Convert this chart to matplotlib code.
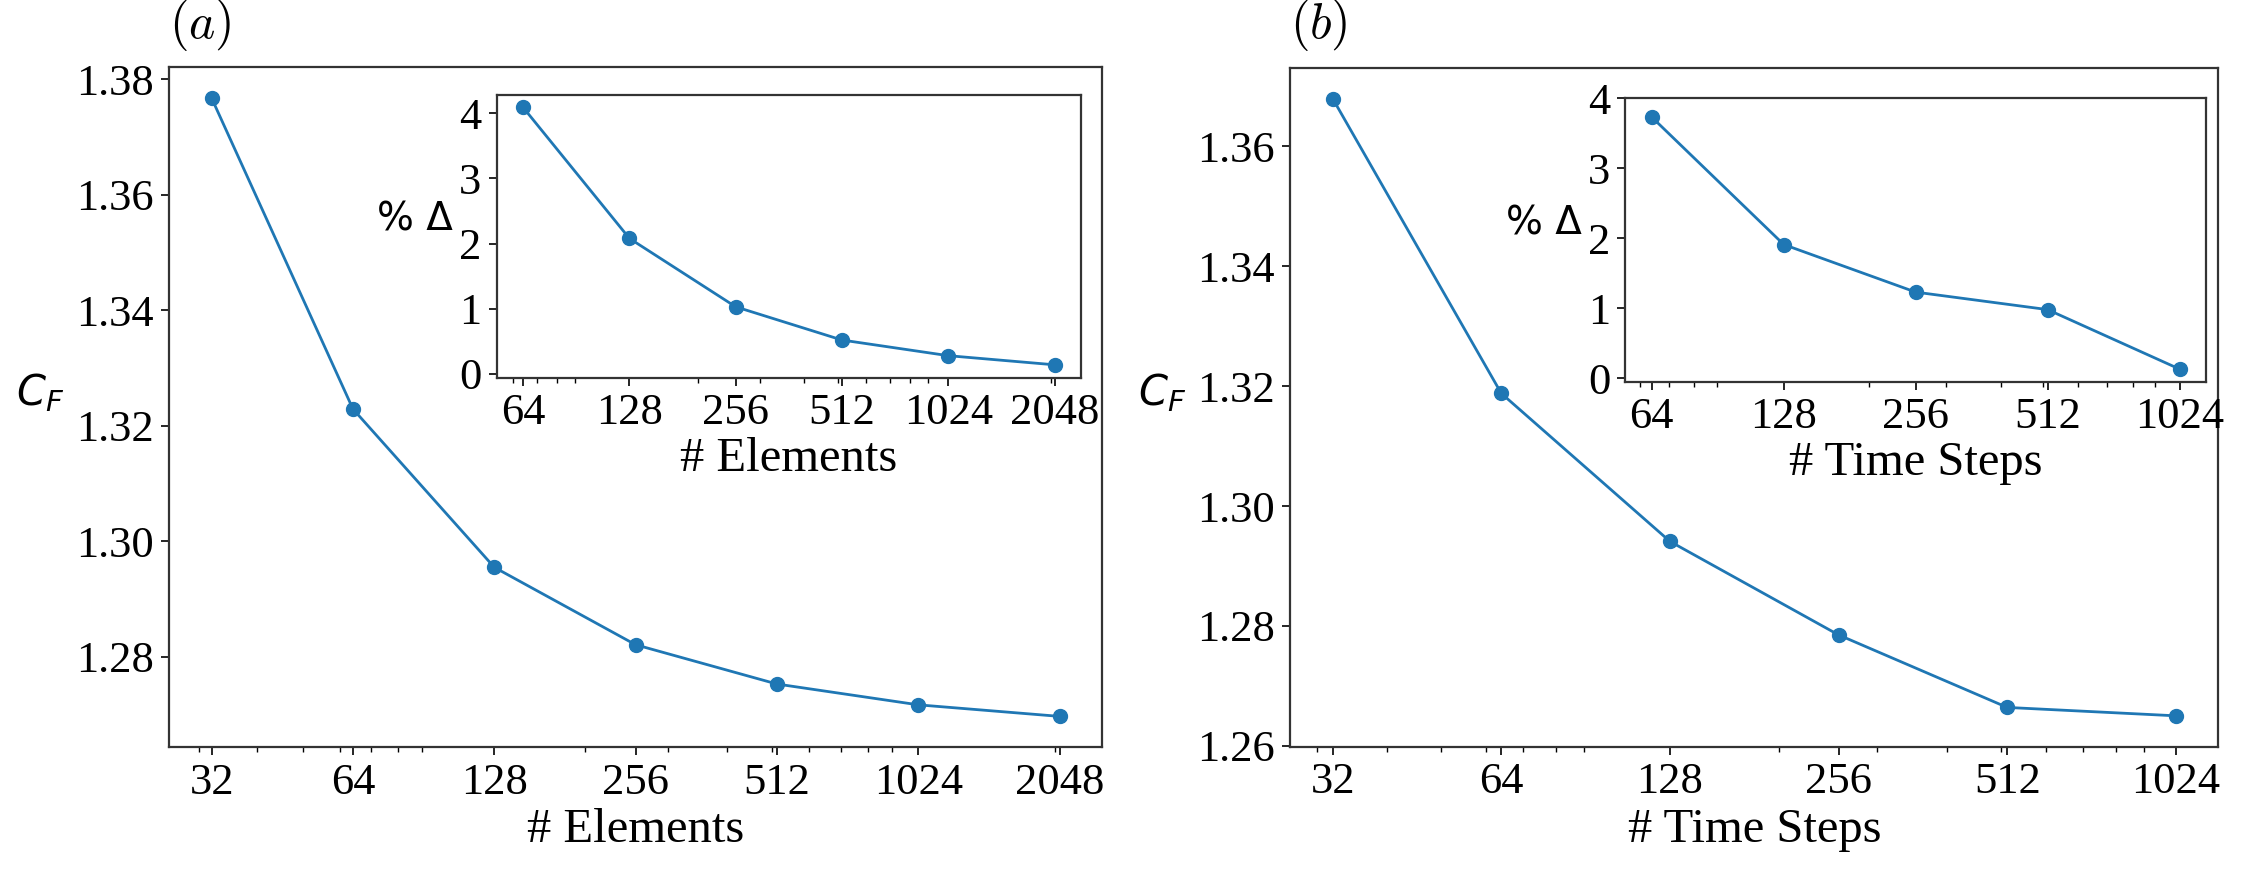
import matplotlib
matplotlib.use('Agg')
import matplotlib.pyplot as plt
from matplotlib.ticker import NullFormatter

plt.rcParams['font.family'] = ['Liberation Serif', 'DejaVu Serif']

# panel (a): mesh refinement
elements = [32, 64, 128, 256, 512, 1024, 2048]
cf_elements = [1.3767, 1.3229, 1.2955, 1.2821, 1.2753, 1.2717, 1.2697]
elem_inset = [64, 128, 256, 512, 1024, 2048]
delta_elements = [4.09, 2.08, 1.03, 0.52, 0.28, 0.14]

# panel (b): time step refinement
steps = [32, 64, 128, 256, 512, 1024]
cf_steps = [1.3680, 1.3188, 1.2941, 1.2785, 1.2664, 1.2650]
steps_inset = [64, 128, 256, 512, 1024]
delta_steps = [3.73, 1.91, 1.23, 0.98, 0.13]

COLOR = '#1f77b4'
TICKSIZE = 32
LABELSIZE = 35


def style(ax, xt):
    ax.set_xscale('log')
    ax.set_xticks(xt)
    ax.set_xticklabels([str(v) for v in xt])
    ax.xaxis.set_minor_formatter(NullFormatter())
    ax.tick_params(which='major', labelsize=TICKSIZE, length=6, width=1.2, pad=5)
    ax.tick_params(which='minor', length=3.5, width=1.0)
    for s in ax.spines.values():
        s.set_linewidth(1.6)
        s.set_color('#333333')


def panel(rect, inrect, x, y, xi, yi, xlab, tag):
    ax = fig.add_axes(rect)
    ax.plot(x, y, '-o', color=COLOR, lw=2, ms=10)
    style(ax, x)
    ax.set_xlabel(xlab, fontsize=LABELSIZE, labelpad=4)
    ax.set_ylabel(r'$C_F$', fontsize=30, rotation=0)
    ax.yaxis.set_label_coords(-0.138, 0.49)
    ax.text(0.0, 1.043, tag, transform=ax.transAxes, fontsize=36,
            math_fontfamily='cm', va='baseline', ha='left')

    ins = fig.add_axes(inrect)
    ins.plot(xi, yi, '-o', color=COLOR, lw=2, ms=10)
    style(ins, xi)
    ins.set_yticks([0, 1, 2, 3, 4])
    ins.set_xlabel(xlab, fontsize=LABELSIZE, labelpad=3)
    ins.set_ylabel('% Δ', fontsize=28, rotation=0, family='DejaVu Sans')
    ins.yaxis.set_label_coords(-0.14, 0.49)
    return ax, ins


fig = plt.figure(figsize=(22.42, 8.73), dpi=100)

panel([0.0755, 0.1440, 0.4160, 0.7789], [0.2215, 0.5674, 0.2607, 0.3242],
      elements, cf_elements, elem_inset, delta_elements, '# Elements', r'$(a)$')
panel([0.5756, 0.1447, 0.4137, 0.7778], [0.7250, 0.5628, 0.2589, 0.3246],
      steps, cf_steps, steps_inset, delta_steps, '# Time Steps', r'$(b)$')

fig.savefig('out.png', dpi=100)
